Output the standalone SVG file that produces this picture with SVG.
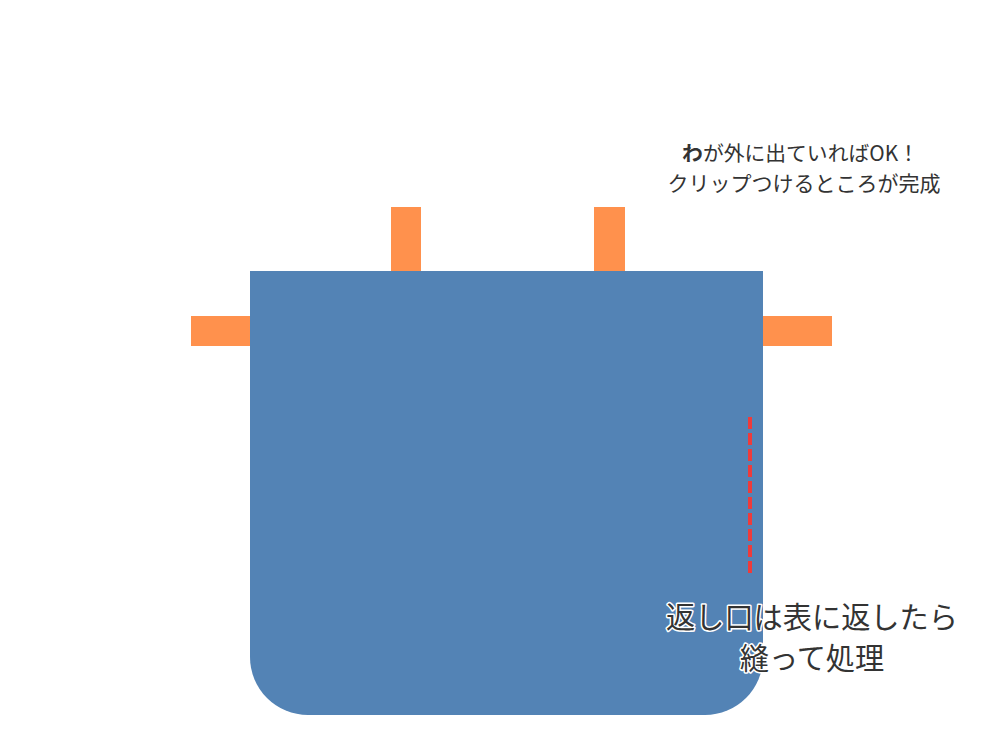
<svg xmlns="http://www.w3.org/2000/svg" width="1000" height="750" viewBox="0 0 1000 750">
<style>
.tab{fill:#FF914D}
.t{font-family:"Noto Sans CJK JP","Noto Sans",sans-serif;fill:#333;text-anchor:middle}
.halo{stroke:#fff;stroke-width:3;paint-order:stroke;stroke-linejoin:round}
</style>
<rect width="1000" height="750" fill="#fff"/>
<g id="tabs">
<rect class="tab" x="391" y="207" width="30" height="66"/>
<rect class="tab" x="594" y="207" width="31" height="66"/>
<rect class="tab" x="191" y="316" width="61" height="30"/>
<rect class="tab" x="761" y="316" width="71" height="30"/>
</g>
<g id="bag">
<path d="M250 271 H763 V657 A58 58 0 0 1 705 715 H308 A58 58 0 0 1 250 657 Z" fill="#5383B5"/>
</g>
<g id="connectors">
<line x1="750" y1="417" x2="750" y2="574" stroke="#EE3B3B" stroke-width="4" stroke-dasharray="12,4"/>
</g>
<g id="label-top">
<text class="t" x="800.5" y="160.5" font-size="20.8"><tspan font-weight="bold">わ</tspan>が外に出ていればOK！</text>
<text class="t" x="804" y="190.5" font-size="21">クリップつけるところが完成</text>
</g>
<g id="label-bottom">
<text class="t halo" x="812" y="628" font-size="29.2">返し口は表に返したら</text>
<text class="t halo" x="812" y="669" font-size="29.2">縫って処理</text>
</g>
</svg>
